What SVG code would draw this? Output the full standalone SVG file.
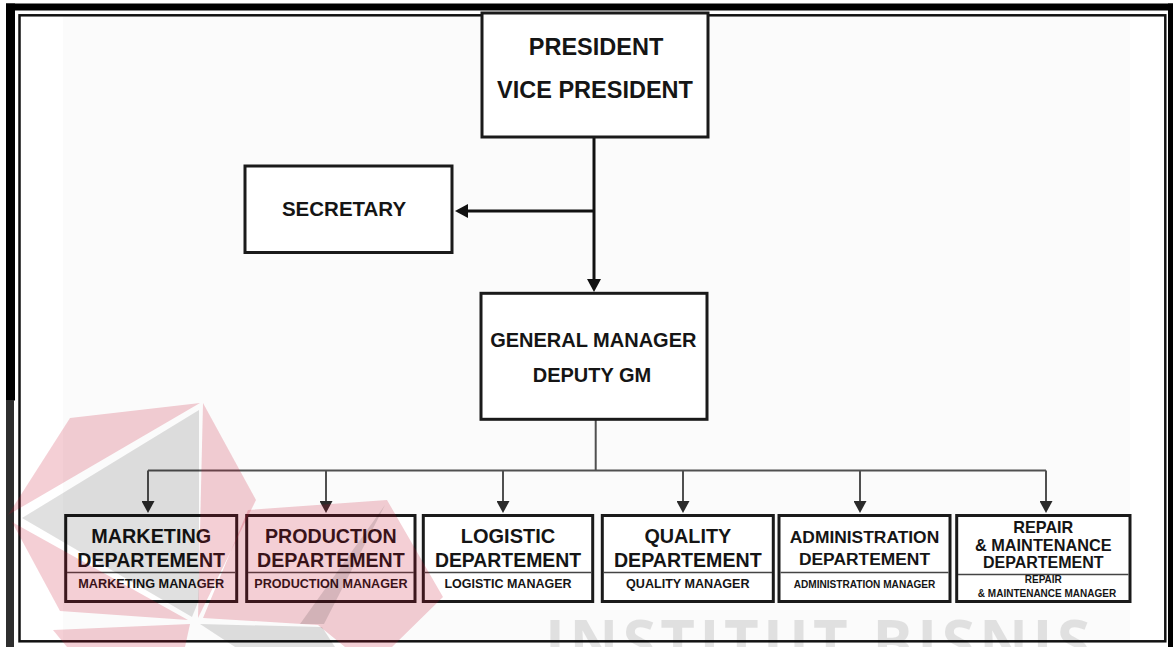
<svg xmlns="http://www.w3.org/2000/svg" width="1173" height="647" viewBox="0 0 1173 647">
<defs>
<style>
.box{fill:#fff;stroke:#1a1a1a;stroke-width:3}
.div{stroke:#444;stroke-width:1.5}
.t{font-family:"Liberation Sans",Arial,Helvetica,sans-serif;font-weight:bold;fill:#151515;text-anchor:middle}
.main{stroke:#111;stroke-width:3;fill:none}
.sub{stroke:#505050;stroke-width:2;fill:none}
.pink{fill:#c8102e;opacity:0.2}
.gray{fill:#000;opacity:0.12}
</style>
<marker id="ahBig" viewBox="0 0 14 14" markerWidth="14" markerHeight="14" refX="7" refY="7" orient="auto" markerUnits="userSpaceOnUse">
<path d="M0,0 L13,7 L0,14 z" fill="#111"/>
</marker>
<marker id="ahSmall" viewBox="0 0 13 13" markerWidth="13" markerHeight="13" refX="6" refY="6.5" orient="auto" markerUnits="userSpaceOnUse">
<path d="M0,0 L12,6.5 L0,13 z" fill="#2a2a2a"/>
</marker>
</defs>

<g id="frame">
<rect x="0" y="0" width="1173" height="647" fill="#fff"/>
<rect x="63" y="16" width="1067" height="625" fill="#fbfbfb"/>
<rect x="6" y="3.5" width="1167" height="7" fill="#000"/>
<rect x="6" y="3.5" width="9" height="397" fill="#000"/>
<rect x="6" y="400" width="8" height="247" fill="#2e2e2e"/>
<rect x="1168" y="3.5" width="5" height="643.5" fill="#000"/>
<rect x="19.5" y="15.3" width="1145.8" height="626" fill="none" stroke="#111" stroke-width="2.5"/>
</g>

<g id="connectors">
<line class="main" x1="594" y1="137" x2="594" y2="286" marker-end="url(#ahBig)"/>
<line class="main" x1="594" y1="211" x2="461" y2="211" marker-end="url(#ahBig)"/>
<line class="sub" x1="595.7" y1="419" x2="595.7" y2="470.5"/>
<line class="sub" x1="148" y1="470.5" x2="1046" y2="470.5"/>
<line class="sub" x1="148" y1="470.5" x2="148" y2="507" marker-end="url(#ahSmall)"/>
<line class="sub" x1="326" y1="470.5" x2="326" y2="507" marker-end="url(#ahSmall)"/>
<line class="sub" x1="503" y1="470.5" x2="503" y2="507" marker-end="url(#ahSmall)"/>
<line class="sub" x1="683" y1="470.5" x2="683" y2="507" marker-end="url(#ahSmall)"/>
<line class="sub" x1="860" y1="470.5" x2="860" y2="507" marker-end="url(#ahSmall)"/>
<line class="sub" x1="1046" y1="470.5" x2="1046" y2="507" marker-end="url(#ahSmall)"/>
</g>

<g id="president">
<rect class="box" x="482" y="13" width="226" height="124"/>
<text class="t" x="596" y="55" font-size="23.5">PRESIDENT</text>
<text class="t" x="595" y="98" font-size="23.5">VICE PRESIDENT</text>
</g>

<g id="secretary">
<rect class="box" x="245" y="166" width="207" height="86.5"/>
<text class="t" x="344" y="216" font-size="20.5">SECRETARY</text>
</g>

<g id="general-manager">
<rect class="box" x="481" y="293.3" width="226" height="126"/>
<text class="t" x="593.3" y="346.7" font-size="20">GENERAL MANAGER</text>
<text class="t" x="592" y="381.7" font-size="20">DEPUTY GM</text>
</g>

<g id="marketing">
<rect class="box" x="65.7" y="515.5" width="171" height="86"/>
<line class="div" x1="67" y1="572.5" x2="235.5" y2="572.5"/>
<text class="t" x="151.2" y="543" font-size="19.8">MARKETING</text>
<text class="t" x="151.2" y="566.5" font-size="19.6">DEPARTEMENT</text>
<text class="t" x="151.2" y="588" font-size="12.7">MARKETING MANAGER</text>
</g>

<g id="production">
<rect class="box" x="246.7" y="515.5" width="168.3" height="86"/>
<line class="div" x1="248" y1="572.5" x2="414" y2="572.5"/>
<text class="t" x="330.9" y="543" font-size="19.6">PRODUCTION</text>
<text class="t" x="330.9" y="566.5" font-size="19.6">DEPARTEMENT</text>
<text class="t" x="330.9" y="588" font-size="12.6">PRODUCTION MANAGER</text>
</g>

<g id="logistic">
<rect class="box" x="423.3" y="515.5" width="169.4" height="86"/>
<line class="div" x1="424.5" y1="572.5" x2="591.5" y2="572.5"/>
<text class="t" x="508" y="543" font-size="20">LOGISTIC</text>
<text class="t" x="508" y="566.5" font-size="19.4">DEPARTEMENT</text>
<text class="t" x="508" y="588" font-size="12.5">LOGISTIC MANAGER</text>
</g>

<g id="quality">
<rect class="box" x="602.3" y="515.5" width="171" height="86"/>
<line class="div" x1="603.5" y1="572.5" x2="772" y2="572.5"/>
<text class="t" x="687.8" y="543" font-size="19.8">QUALITY</text>
<text class="t" x="687.8" y="566.5" font-size="19.6">DEPARTEMENT</text>
<text class="t" x="687.8" y="588" font-size="12.6">QUALITY MANAGER</text>
</g>

<g id="administration">
<rect class="box" x="779" y="515.5" width="171" height="86"/>
<line class="div" x1="780.5" y1="572.5" x2="948.5" y2="572.5"/>
<text class="t" x="864.5" y="543" font-size="17.4">ADMINISTRATION</text>
<text class="t" x="864.5" y="565" font-size="17.4">DEPARTEMENT</text>
<text class="t" x="864.5" y="587.5" font-size="10.1">ADMINISTRATION MANAGER</text>
</g>

<g id="repair-maintenance">
<rect class="box" x="956.7" y="515.5" width="173.3" height="86"/>
<line class="div" x1="958" y1="574.5" x2="1128.5" y2="574.5"/>
<text class="t" x="1043.3" y="533" font-size="16.2">REPAIR</text>
<text class="t" x="1043.3" y="550.5" font-size="16.3">&amp; MAINTENANCE</text>
<text class="t" x="1043.3" y="568" font-size="16">DEPARTEMENT</text>
<text class="t" x="1043.3" y="582.5" font-size="10">REPAIR</text>
<text class="t" x="1047" y="596.5" font-size="10">&amp; MAINTENANCE MANAGER</text>
</g>

<g id="watermark">
<polygon class="pink" points="200,403 70,418 8,515"/>
<polygon class="gray" points="199,410 22,518 192,617 199,600"/>
<polygon class="pink" points="203,403 256,500 198,618"/>
<polygon class="pink" points="12,522 60,611 188,620"/>
<polygon class="pink" points="53,630 190,624 185,647 67,647"/>
<polygon class="gray" points="200,624 322,627 335,647 235,647"/>
<polygon class="pink" points="248,510 387,500 443,597 392,647 345,647 318,625 203,618"/>
<polygon class="gray" points="385,505 324,624 300,624"/>
<text x="545" y="664" font-family="'Open Sans','Liberation Sans',sans-serif" font-weight="bold" font-size="60" textLength="545" lengthAdjust="spacing" fill="#000" opacity="0.1">INSTITUT BISNIS</text>
</g>
</svg>
